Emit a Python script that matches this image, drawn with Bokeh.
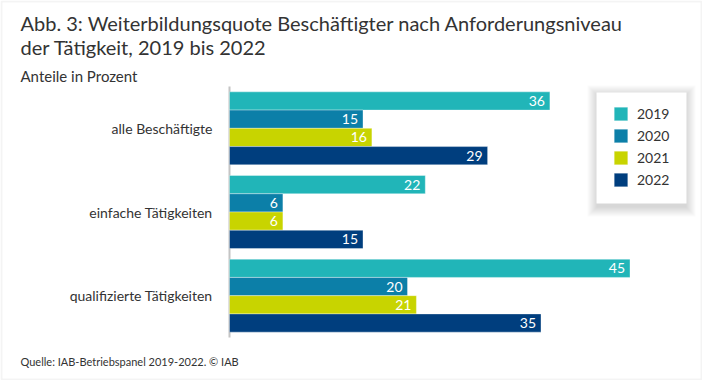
import numpy as np
from bokeh.plotting import figure
from bokeh.models import Range1d, Label, Legend, LegendItem, BoxAnnotation, ColumnDataSource
from bokeh.core.properties import value
from bokeh.embed import file_html
from bokeh.resources import INLINE

categories = ["alle Beschäftigte", "einfache Tätigkeiten", "qualifizierte Tätigkeiten"]
years = ["2019", "2020", "2021", "2022"]
v2019 = [36, 22, 45]
v2020 = [15, 6, 20]
v2021 = [16, 6, 21]
v2022 = [29, 15, 35]
series = [v2019, v2020, v2021, v2022]
colors = ["#21b5b8", "#0c7fa8", "#c8d400", "#003e7e"]

title1 = "Abb. 3: Weiterbildungsquote Beschäftigter nach Anforderungsniveau"
title2 = "der Tätigkeit, 2019 bis 2022"
subtitle = "Anteile in Prozent"
source_note = "Quelle:  IAB-Betriebspanel 2019-2022. © IAB"

FONT = "Lato"
TXT = "#333333"
W, H = 702, 380

# layout (pixels)
X0 = 229.0        # pixel of value 0
PX_PER_UNIT = 8.9
Y_TOP = 86.0      # top of first category band
BAND = 83.67      # pixels per category band

x_start = -X0 / PX_PER_UNIT
x_end = (W - X0) / PX_PER_UNIT
y_top = -Y_TOP / BAND - 0.5
y_bottom = (H - Y_TOP) / BAND - 0.5

p = figure(x_range=Range1d(x_start, x_end), y_range=Range1d(y_bottom, y_top),
           width=W, height=H, output_backend="svg", toolbar_location=None,
           min_border=0)
p.axis.visible = False
p.grid.visible = False
p.outline_line_color = None

def sy(page_y):
    return H - page_y

# outer border
p.add_layout(BoxAnnotation(left=1, right=W - 1, bottom=1, top=H - 1,
                           left_units="screen", right_units="screen",
                           bottom_units="screen", top_units="screen",
                           fill_alpha=0, line_color="#dcdcdc", line_width=2))

idx = np.arange(len(categories))
bar_h = 0.218
offsets = [-1.5 * bar_h, -0.5 * bar_h, 0.5 * bar_h, 1.5 * bar_h]

# category axis line and labels
p.segment(x0=[0], x1=[0], y0=[idx[0] - 0.5], y1=[idx[-1] + 0.5], line_color="#c4c4c4", line_width=2)
p.text(x=[0] * len(categories), y=idx, text=categories, x_offset=-17, text_align="right",
       text_baseline="middle", text_color=TXT, text_font_size="14px", text_font=value(FONT))

items = []
for yr, vals, col, off in zip(years, series, colors, offsets):
    src = ColumnDataSource(dict(y=idx + off, v=vals, lbl=[str(v) for v in vals]))
    r = p.hbar(y="y", left=0, right="v", height=bar_h, source=src, fill_color=col,
               line_color="white", line_width=0.6, line_alpha=0.6)
    p.text(x="v", y="y", text="lbl", source=src, x_offset=-5, text_align="right",
           text_baseline="middle", text_color="white", text_font_size="14px",
           text_font=value(FONT))
    items.append(LegendItem(label=yr, renderers=[r]))

# legend box with soft shadow
LB_L, LB_R, LB_T, LB_B = 596, 686, 92, 203
for k in range(10):
    p.add_layout(BoxAnnotation(left=LB_L - k, right=LB_R + k, top=sy(LB_T + 2 - k), bottom=sy(LB_B + 4 + k),
                               left_units="screen", right_units="screen",
                               bottom_units="screen", top_units="screen",
                               fill_color="black", fill_alpha=0.014, line_color=None))
p.add_layout(BoxAnnotation(left=LB_L, right=LB_R, top=sy(LB_T), bottom=sy(LB_B),
                           left_units="screen", right_units="screen",
                           bottom_units="screen", top_units="screen",
                           fill_color="white", fill_alpha=1, line_color=None))

legend = Legend(items=items, location=(612, sy(187.7)), padding=0, spacing=5,
                glyph_width=17, glyph_height=17, label_height=17, label_width=37,
                label_standoff=8, label_text_font_size="14px", label_text_font=FONT,
                label_text_color=TXT, border_line_color=None, background_fill_alpha=0,
                margin=0)
p.add_layout(legend)

for txt, x, yb, size in [(title1, 20, 22, "20px"), (title2, 20, 46, "20px"),
                         (subtitle, 20, 75, "15px"), (source_note, 20, 361, "11px")]:
    p.add_layout(Label(x=x, y=sy(yb), x_units="screen", y_units="screen", text=txt,
                       text_font_size=size, text_font=FONT, text_color=TXT,
                       text_baseline="alphabetic"))

open("out.html", "w").write(file_html(p, INLINE))
